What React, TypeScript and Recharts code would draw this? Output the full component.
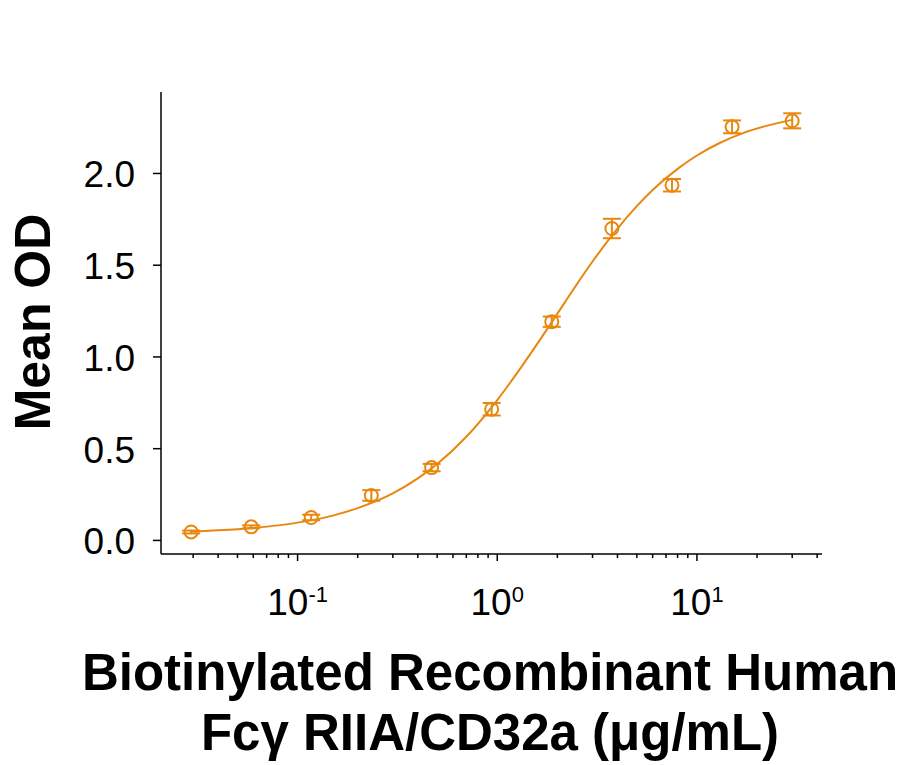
import React from 'react';
import { ComposedChart, Scatter, Line, XAxis, YAxis, ErrorBar, Label } from 'recharts';

const ORANGE = '#E8870E';
const FONT = '"Liberation Sans", Arial, sans-serif';

// measured points
const concentrations = [0.0293, 0.0586, 0.117, 0.234, 0.469, 0.9375, 1.875, 3.75, 7.5, 15, 30];
const meanOD = [0.046, 0.074, 0.125, 0.245, 0.397, 0.715, 1.192, 1.7, 1.936, 2.254, 2.287];
const errOD = [0.008, 0.008, 0.015, 0.029, 0.02, 0.034, 0.028, 0.053, 0.034, 0.035, 0.041];

// fitted curve
const fitX = [0.0293, 0.04, 0.06, 0.08, 0.1, 0.15, 0.2, 0.3, 0.4, 0.5, 0.7, 1, 1.3, 1.7, 2, 2.5, 3, 4, 5, 6, 8, 10, 13, 17, 22, 30];
const fitY = [0.048, 0.055, 0.068, 0.082, 0.097, 0.135, 0.176, 0.256, 0.338, 0.416, 0.565, 0.765, 0.935, 1.12, 1.236, 1.395, 1.52, 1.7, 1.822, 1.91, 2.025, 2.098, 2.166, 2.22, 2.258, 2.292];

// axis ticks
const xTicks = [
  0.03, 0.04, 0.05, 0.06, 0.07, 0.08, 0.09, 0.1,
  0.2, 0.3, 0.4, 0.5, 0.6, 0.7, 0.8, 0.9, 1,
  2, 3, 4, 5, 6, 7, 8, 9, 10,
  20, 30, 40,
];
const xMajor = [0.1, 1, 10];
const yTicks = [0, 0.5, 1, 1.5, 2];
const xDomain = [0.0207, 42.3];
const yDomain = [-0.074, 2.444];

const points = concentrations.map((x, i) => ({ x, y: meanOD[i], err: errOD[i] }));
const fitData = fitX.map((x, i) => ({ x, y: fitY[i] }));

const XTick = (props: any) => {
  const { x, y, payload } = props;
  const v = payload.value as number;
  const major = xMajor.some((m) => Math.abs(m - v) / m < 1e-6);
  const exp = Math.round(Math.log10(v));
  return (
    <g>
      <line x1={x} y1={y} x2={x} y2={y + (major ? 7 : 4)} stroke="#000" strokeWidth={1.5} />
      {major && (
        <text x={x} y={y + 61} textAnchor="middle" fontFamily={FONT} fontSize={37} fill="#000">
          10
          <tspan fontSize={22} dy={-13}>{String(exp)}</tspan>
        </text>
      )}
    </g>
  );
};

const YTick = (props: any) => {
  const { x, y, payload } = props;
  return (
    <g>
      <line x1={x - 8} y1={y} x2={x} y2={y} stroke="#000" strokeWidth={1.5} />
      <text x={x - 26} y={y} dy={14} textAnchor="end" fontFamily={FONT} fontSize={37} fill="#000">
        {(payload.value as number).toFixed(1)}
      </text>
    </g>
  );
};

const Circle = (props: any) => {
  const { cx, cy } = props;
  if (cx == null || cy == null) return null;
  return <circle cx={cx} cy={cy} r={6.5} fill="none" stroke={ORANGE} strokeWidth={2} />;
};

const XTitle = () => (
  <text textAnchor="middle" fontFamily={FONT} fontWeight="bold" fontSize={51} fill="#000">
    <tspan x={490} y={690}>Biotinylated Recombinant Human</tspan>
    <tspan x={490} y={750}>Fcγ RIIA/CD32a (μg/mL)</tspan>
  </text>
);

const YTitle = () => (
  <text
    x={50}
    y={322}
    transform="rotate(-90, 50, 322)"
    textAnchor="middle"
    fontFamily={FONT}
    fontWeight="bold"
    fontSize={50}
    fill="#000"
  >
    Mean OD
  </text>
);

export default function App() {
  return (
    <div style={{ position: 'absolute', left: 0, top: 0, width: 907, height: 765, background: '#fff' }}>
      <ComposedChart width={907} height={765} margin={{ top: 92, right: 85, bottom: 0, left: 0 }}>
        <XAxis
          dataKey="x"
          type="number"
          scale="log"
          domain={xDomain}
          allowDataOverflow
          ticks={xTicks}
          interval={0}
          tick={<XTick />}
          tickLine={false}
          tickSize={0}
          tickMargin={0}
          axisLine={{ stroke: '#000', strokeWidth: 1.5 }}
          height={211}
        >
          <Label content={<XTitle />} />
        </XAxis>
        <YAxis
          type="number"
          domain={yDomain}
          allowDataOverflow
          ticks={yTicks}
          interval={0}
          tick={<YTick />}
          tickLine={false}
          tickSize={0}
          tickMargin={0}
          axisLine={{ stroke: '#000', strokeWidth: 1.5 }}
          width={161}
        >
          <Label content={<YTitle />} />
        </YAxis>
        <Line
          data={fitData}
          dataKey="y"
          type="monotone"
          stroke={ORANGE}
          strokeWidth={2}
          dot={false}
          activeDot={false}
          isAnimationActive={false}
        />
        <Scatter data={points} dataKey="y" shape={<Circle />} isAnimationActive={false}>
          <ErrorBar dataKey="err" direction="y" width={9} stroke={ORANGE} strokeWidth={2} />
        </Scatter>
      </ComposedChart>
    </div>
  );
}
